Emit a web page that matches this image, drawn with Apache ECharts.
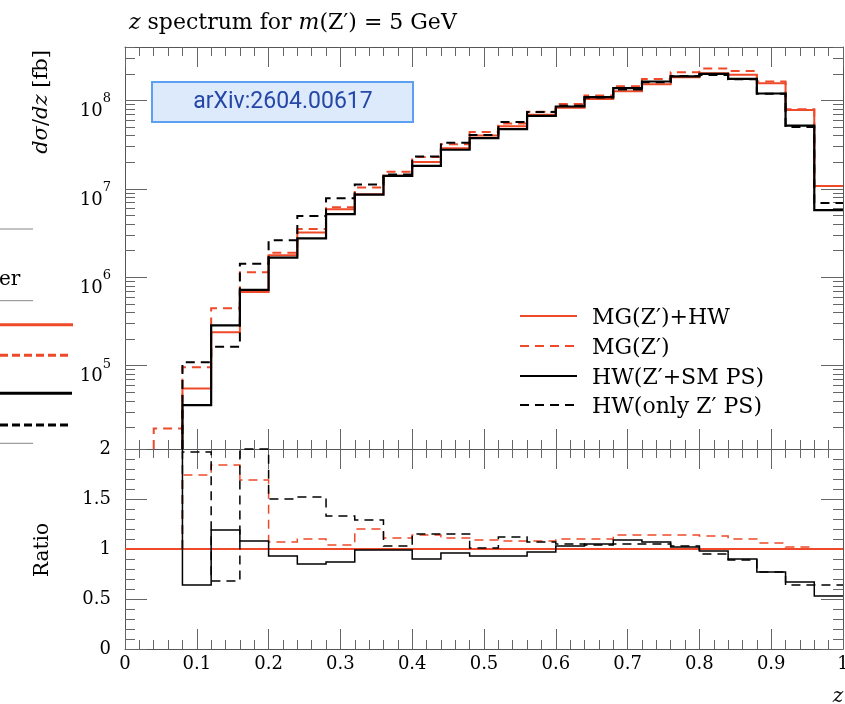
<!DOCTYPE html>
<html><head><meta charset="utf-8">
<script src="https://cdn.jsdelivr.net/npm/echarts@6/dist/echarts.min.js"></script>
<style>html,body{margin:0;padding:0;background:#fff}#c{width:845px;height:704px}</style>
</head><body><div id="c"></div>
<script>
// ---- data ----
const binEdges = [0,0.04,0.08,0.12,0.16,0.20,0.24,0.28,0.32,0.36,0.40,0.44,0.48,0.52,0.56,0.60,0.64,0.68,0.72,0.76,0.80,0.84,0.88,0.92,0.96,1.00];
// dsigma/dz [fb] per bin
const mgHW   = [null,null,5.53e4,2.38e5,6.8e5,1.77e6,3.2e6,5.89e6,8.7e6,1.41e7,2.02e7,2.89e7,4.03e7,5.1e7,6.92e7,8.3e7,1.04e8,1.27e8,1.53e8,1.83e8,2.04e8,1.96e8,1.57e8,7.8e7,1.08e7];
const mgOnly = [null,1.95e4,9.6e4,4.46e5,1.14e6,1.9e6,3.52e6,6.2e6,1.04e7,1.56e7,2.3e7,3.2e7,4.4e7,5.5e7,7.47e7,9.13e7,1.14e8,1.45e8,1.75e8,2.09e8,2.3e8,2.15e8,1.64e8,7.95e7,1.08e7];
const hwSM   = [null,null,3.58e4,2.86e5,7.2e5,1.67e6,2.76e6,5.17e6,8.6e6,1.4e7,1.82e7,2.77e7,3.75e7,4.74e7,6.71e7,8.55e7,1.09e8,1.38e8,1.64e8,1.87e8,2.0e8,1.76e8,1.2e8,5.21e7,5.75e6];
const hwOnly = [null,null,1.09e5,1.64e5,1.42e6,2.62e6,4.94e6,7.85e6,1.12e7,1.45e7,2.32e7,3.32e7,4.07e7,5.7e7,7.4e7,8.72e7,1.08e8,1.33e8,1.61e8,1.89e8,1.94e8,1.74e8,1.19e8,5.0e7,6.9e6];
// ratios to MG(Z')+HW
const ratioRef    = 1;
const ratioMG     = [null,null,1.74,1.84,1.69,1.07,1.10,1.04,1.20,1.11,1.14,1.11,1.09,1.08,1.08,1.10,1.10,1.14,1.14,1.14,1.13,1.10,1.06,1.02,1.00];
const ratioHWSM   = [null,null,0.64,1.19,1.08,0.93,0.85,0.87,0.99,0.99,0.90,0.96,0.93,0.93,0.97,1.03,1.05,1.09,1.07,1.02,0.98,0.90,0.77,0.67,0.53];
const ratioHWOnly = [null,null,1.97,0.68,2.09,1.50,1.52,1.33,1.29,1.03,1.15,1.15,1.01,1.12,1.07,1.05,1.04,1.05,1.05,1.03,0.95,0.89,0.77,0.64,0.64];
// axes
const yMin = 11400, yMax = 4.03e8;
const majorTicks = [1e5,1e6,1e7,1e8];
const minorTicks = [2e4,3e4,4e4,5e4,6e4,7e4,8e4,9e4,2e5,3e5,4e5,5e5,6e5,7e5,8e5,9e5,2e6,3e6,4e6,5e6,6e6,7e6,8e6,9e6,2e7,3e7,4e7,5e7,6e7,7e7,8e7,9e7,2e8,3e8,4e8];
const seriesNames = ['MG(Z′)+HW','MG(Z′)','HW(Z′+SM PS)','HW(only Z′ PS)'];

// ---- styling ----
const FONT = 'DejaVu Serif';
const RED = '#ee4a2a', BLACK = '#000';
const AX = '#555', TK = '#666';
const DASH = [9,6];
const numRich = {n:{fontFamily:FONT, fontSize:18, color:'#000'}};

function xAx(grid, pos, labels){
  return {type:'value', gridIndex:grid, position:pos, min:0, max:1, interval:0.1,
    axisLine:{show:true, onZero:false, lineStyle:{color:AX, width:1}},
    axisTick:{show:true, inside:true, length:20, lineStyle:{color:TK, width:1}},
    minorTick:{show:true, splitNumber:5, length:9, lineStyle:{color:TK, width:1}},
    splitLine:{show:false}, minorSplitLine:{show:false},
    axisLabel:{show:labels, margin:6, fontFamily:FONT, fontSize:18, color:'#000', rich:numRich,
      formatter:v=>'{n|'+String(+(+v).toFixed(1))+'}'}
  };
}
function logAx(pos, labels, ticks, len, line){
  return {type:'log', gridIndex:0, position:pos, min:yMin, max:yMax, logBase:10,
    axisLine:{show:line, onZero:false, lineStyle:{color:AX, width:1}},
    axisTick:{show:true, inside:true, length:len, customValues:ticks, lineStyle:{color:TK, width:1}},
    minorTick:{show:false}, splitLine:{show:false},
    axisLabel:{show:labels, customValues:majorTicks, margin:14, padding:[12,0,0,0],
      formatter:v=>'{b|10}{s|'+Math.round(Math.log10(v))+'}',
      rich:{b:{fontFamily:FONT, fontSize:18, lineHeight:28, verticalAlign:'bottom', color:'#000'},
            s:{fontFamily:FONT, fontSize:13, lineHeight:13, verticalAlign:'top', color:'#000'}}}
  };
}
function ratioAx(pos, labels){
  return {type:'value', gridIndex:1, position:pos, min:0, max:2, interval:0.5,
    axisLine:{show:true, onZero:false, lineStyle:{color:AX, width:1}},
    axisTick:{show:true, inside:true, length:22, lineStyle:{color:TK, width:1}},
    minorTick:{show:true, splitNumber:5, length:10, lineStyle:{color:TK, width:1}},
    splitLine:{show:false}, minorSplitLine:{show:false},
    axisLabel:{show:labels, margin:14, fontFamily:FONT, fontSize:18, color:'#000', rich:numRich,
      formatter:v=>'{n|'+String(v)+'}'}
  };
}
function stepSeries(name, values, xi, yi, color, width, dash, startLevel){
  return {type:'custom', name, xAxisIndex:xi, yAxisIndex:yi, data:[0], silent:true, z:3,
    renderItem(params, api){
      const cs = params.coordSys;
      const top = cs.y, bot = cs.y + cs.height;
      const py = v => Math.min(bot, Math.max(top, api.coord([0.5, v])[1]));
      const px = x => api.coord([x, startLevel])[0];
      const pts = [];
      for (let i = 0; i < values.length; i++) {
        const v = values[i];
        if (v == null) continue;
        if (!pts.length) pts.push([px(binEdges[i]), py(startLevel)]);
        pts.push([px(binEdges[i]), py(v)]);
        pts.push([px(binEdges[i+1]), py(v)]);
      }
      return {type:'polyline', shape:{points:pts}, style:{stroke:color, lineWidth:width, lineDash:dash, fill:null}};
    }
  };
}

const legendY = [316, 346, 376, 405];
const legendStyle = [[RED,null],[RED,DASH],[BLACK,null],[BLACK,DASH]];
const graphic = [];
legendY.forEach((y,i)=>{
  graphic.push({type:'line', shape:{x1:520,y1:y,x2:577,y2:y}, style:{stroke:legendStyle[i][0], lineWidth:2, lineDash:legendStyle[i][1]}});
  graphic.push({type:'text', x:592, y:y+2, style:{text:seriesNames[i], fontFamily:FONT, fontSize:22, fill:'#000', align:'left', verticalAlign:'middle'}});
});
// fragment of a neighbouring legend cut at the left edge
[229, 300.7, 443.3].forEach(y=>graphic.push({type:'line', shape:{x1:0,y1:y,x2:33,y2:y}, style:{stroke:'#888', lineWidth:1}}));
[[324.7,RED,null,73],[355.3,RED,[8,4],72],[393.3,BLACK,null,72],[425,BLACK,[8,4],70]].forEach(d=>{
  graphic.push({type:'line', shape:{x1:0,y1:d[0],x2:d[3],y2:d[0]}, style:{stroke:d[1], lineWidth:3, lineDash:d[2]}});
});
graphic.push({type:'text', x:-1, y:290, style:{text:'er', fontFamily:FONT, fontSize:20, fill:'#000', align:'left', verticalAlign:'bottom'}});
// arXiv tag
graphic.push({type:'rect', shape:{x:152,y:82,width:261,height:40}, style:{fill:'#dceafc', stroke:'#5d9ff0', lineWidth:2}});
graphic.push({type:'text', x:283, y:102, style:{text:'arXiv:2604.00617', fontFamily:'Roboto', fontSize:23, fill:'#2447a8', align:'center', verticalAlign:'middle'}});
// axis titles
graphic.push({type:'text', x:42, y:102, rotation:Math.PI/2, style:{text:'{i|dσ}/{i|dz} [fb]', fontFamily:FONT, fontSize:21, fill:'#000', align:'center', verticalAlign:'middle', rich:{i:{fontFamily:FONT, fontSize:21, fontStyle:'italic', fill:'#000'}}}});
graphic.push({type:'text', x:43, y:550, rotation:Math.PI/2, style:{text:'Ratio', fontFamily:FONT, fontSize:20, fill:'#000', align:'center', verticalAlign:'middle'}});
graphic.push({type:'text', x:838, y:697, style:{text:'z', fontFamily:FONT, fontSize:20, fontStyle:'italic', fill:'#000', align:'center', verticalAlign:'middle'}});

const option = {
  animation:false, backgroundColor:'#fff',
  textStyle:{fontFamily:FONT},
  title:{text:'{i|z} spectrum for {i|m}(Z′) = 5 GeV', left:124, top:7,
    textStyle:{fontFamily:FONT, fontSize:22, fontWeight:'normal', color:'#000',
      rich:{i:{fontFamily:FONT, fontSize:22, fontStyle:'italic', color:'#000'}}}},
  grid:[{left:125, top:47, width:718, height:402, containLabel:false, outerBoundsMode:'none'},
        {left:125, top:449, width:718, height:200, containLabel:false, outerBoundsMode:'none'}],
  xAxis:[xAx(0,'bottom',false), xAx(0,'top',false), xAx(1,'bottom',true), xAx(1,'top',false)],
  yAxis:[logAx('left',true,majorTicks,22,true), logAx('left',false,minorTicks,10,false),
         logAx('right',false,majorTicks,22,true), logAx('right',false,minorTicks,10,false),
         ratioAx('left',true), ratioAx('right',false)],
  series:[
    stepSeries(seriesNames[1], mgOnly, 0, 0, RED, 2, DASH, yMin),
    stepSeries(seriesNames[0], mgHW, 0, 0, RED, 2, null, yMin),
    stepSeries(seriesNames[3], hwOnly, 0, 0, BLACK, 2, DASH, yMin),
    stepSeries(seriesNames[2], hwSM, 0, 0, BLACK, 2.2, null, yMin),
    {type:'line', name:seriesNames[0], xAxisIndex:2, yAxisIndex:4, data:[[0,ratioRef],[1,ratioRef]], symbol:'none', silent:true,
      lineStyle:{color:RED, width:2}, z:2},
    stepSeries(seriesNames[1]+' ratio', ratioMG, 2, 4, RED, 1.5, DASH, ratioRef),
    stepSeries(seriesNames[3]+' ratio', ratioHWOnly, 2, 4, BLACK, 1.5, DASH, ratioRef),
    stepSeries(seriesNames[2]+' ratio', ratioHWSM, 2, 4, BLACK, 1.5, null, 2)
  ],
  graphic:graphic
};
const chart = echarts.init(document.getElementById('c'), null, {renderer:'canvas'});
chart.setOption(option);
</script></body></html>
